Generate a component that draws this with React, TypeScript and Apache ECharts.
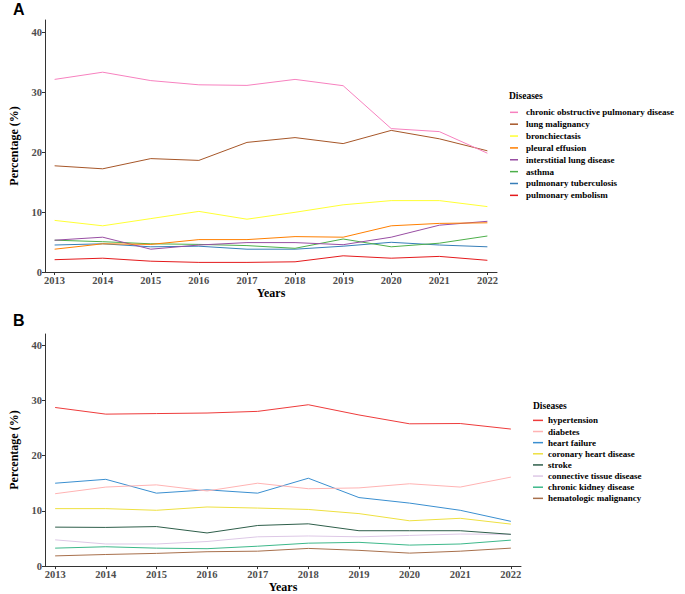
import React, { useEffect, useRef } from "react";
import * as echarts from "echarts";

const years = [2013, 2014, 2015, 2016, 2017, 2018, 2019, 2020, 2021, 2022];
const yTicks = [0, 10, 20, 30, 40];

// Panel A (respiratory diseases)
const namesA = [
  "chronic obstructive pulmonary disease",
  "lung malignancy",
  "bronchiectasis",
  "pleural effusion",
  "interstitial lung disease",
  "asthma",
  "pulmonary tuberculosis",
  "pulmonary embolism",
];
const colorsA = ["#F781BF", "#A65628", "#FFFF33", "#FF7F00", "#984EA3", "#4DAF4A", "#377EB8", "#E41A1C"];
const copd = [32.1, 33.3, 31.9, 31.2, 31.1, 32.1, 31.05, 23.9, 23.4, 19.8];
const lungMalignancy = [17.7, 17.2, 18.9, 18.6, 21.6, 22.4, 21.4, 23.6, 22.2, 20.2];
const bronchiectasis = [8.6, 7.7, 8.9, 10.1, 8.8, 9.95, 11.2, 11.9, 11.9, 10.9];
const pleuralEffusion = [3.8, 4.7, 4.6, 5.4, 5.4, 5.9, 5.8, 7.7, 8.1, 8.2];
const interstitial = [5.3, 5.8, 3.8, 4.5, 4.9, 4.9, 4.55, 5.8, 7.8, 8.45];
const asthma = [5.3, 5.05, 4.7, 4.6, 4.4, 3.95, 5.5, 4.2, 4.8, 6.0];
const tuberculosis = [4.5, 4.7, 4.2, 4.3, 3.8, 3.8, 4.3, 4.95, 4.5, 4.2];
const embolism = [2.05, 2.3, 1.8, 1.6, 1.6, 1.7, 2.7, 2.3, 2.6, 1.95];
const valuesA = [copd, lungMalignancy, bronchiectasis, pleuralEffusion, interstitial, asthma, tuberculosis, embolism];

// Panel B (comorbidities)
const namesB = [
  "hypertension",
  "diabetes",
  "heart failure",
  "coronary heart disease",
  "stroke",
  "connective tissue disease",
  "chronic kidney disease",
  "hematologic malignancy",
];
const colorsB = ["#EE3B3B", "#FFB3B3", "#3A8FD0", "#EEE040", "#2E5E4A", "#DDC8E6", "#3DB88A", "#A8704C"];
const hypertension = [28.7, 27.5, 27.6, 27.7, 28.0, 29.2, 27.35, 25.75, 25.8, 24.8];
const diabetes = [13.1, 14.3, 14.7, 13.6, 15.0, 14.0, 14.15, 14.9, 14.3, 16.1];
const heartFailure = [15.0, 15.7, 13.2, 13.8, 13.2, 15.9, 12.4, 11.4, 10.1, 8.1];
const coronary = [10.4, 10.4, 10.1, 10.7, 10.5, 10.25, 9.5, 8.2, 8.65, 7.6];
const stroke = [7.05, 7.0, 7.15, 6.0, 7.35, 7.65, 6.4, 6.4, 6.4, 5.75];
const connective = [4.75, 4.0, 4.0, 4.45, 5.3, 5.45, 5.3, 5.55, 5.8, 5.75];
const kidney = [3.25, 3.5, 3.25, 3.15, 3.6, 4.15, 4.3, 3.8, 4.0, 4.7];
const hematologic = [1.85, 2.1, 2.3, 2.6, 2.7, 3.2, 2.85, 2.35, 2.7, 3.25];
const valuesB = [hypertension, diabetes, heartFailure, coronary, stroke, connective, kidney, hematologic];

const SERIF = "'Liberation Serif', 'Times New Roman', serif";
const SANS = "'Liberation Sans', Arial, sans-serif";

function makeXAxis(gridIndex: number) {
  return {
    type: "value" as const,
    gridIndex,
    min: 2012.8,
    max: 2022.2,
    name: "Years",
    nameLocation: "middle" as const,
    nameGap: 12,
    nameTextStyle: { fontFamily: SERIF, fontWeight: "bold", fontSize: 12, color: "#000" },
    axisLine: { show: true, lineStyle: { color: "#333", width: 1 } },
    axisTick: { show: true, length: 3, customValues: years, lineStyle: { color: "#333" } },
    axisLabel: {
      customValues: years,
      margin: 3,
      fontFamily: SERIF,
      fontWeight: "bold",
      fontSize: 10.5,
      color: "#4D4D4D",
      formatter: (v: number) => String(v),
    },
    splitLine: { show: false },
  };
}

function makeYAxis(gridIndex: number) {
  return {
    type: "value" as const,
    gridIndex,
    min: 0,
    max: 42,
    name: "Percentage (%)",
    nameLocation: "middle" as const,
    nameGap: 25,
    nameTextStyle: { fontFamily: SERIF, fontWeight: "bold", fontSize: 12, color: "#000" },
    axisLine: { show: true, lineStyle: { color: "#333", width: 1 } },
    axisTick: { show: true, length: 3, customValues: yTicks, lineStyle: { color: "#333" } },
    axisLabel: {
      customValues: yTicks,
      margin: 3,
      fontFamily: SERIF,
      fontWeight: "bold",
      fontSize: 10.5,
      color: "#4D4D4D",
    },
    splitLine: { show: false },
  };
}

export default function App() {
  const ref = useRef<HTMLDivElement>(null);
  useEffect(() => {
    if (!ref.current) return;
    const chart = echarts.init(ref.current, undefined, { renderer: "svg" });
    const seriesA = namesA.map((name, i) => ({
      name,
      type: "line" as const,
      xAxisIndex: 0,
      yAxisIndex: 0,
      symbol: "none",
      silent: true,
      itemStyle: { color: colorsA[i] },
      lineStyle: { color: colorsA[i], width: 1 },
      z: 10 - i,
      data: years.map((y, j) => [y, valuesA[i][j]]),
    }));
    const seriesB = namesB.map((name, i) => ({
      name,
      type: "line" as const,
      xAxisIndex: 1,
      yAxisIndex: 1,
      symbol: "none",
      silent: true,
      itemStyle: { color: colorsB[i] },
      lineStyle: { color: colorsB[i], width: 1 },
      z: 10 - i,
      data: years.map((y, j) => [y, valuesB[i][j]]),
    }));
    chart.setOption({
      animation: false,
      backgroundColor: "#fff",
      grid: [
        { left: 28, top: 20, width: 469, height: 252 },
        { left: 27, top: 334, width: 494, height: 237 },
      ],
      xAxis: [makeXAxis(0), makeXAxis(1)],
      yAxis: [makeYAxis(0), makeYAxis(1)],
      legend: [
        {
          data: namesA,
          orient: "vertical",
          left: 510,
          top: 106.4,
          padding: 0,
          itemWidth: 8,
          itemHeight: 1.5,
          itemGap: 0,
          icon: "rect",
          selectedMode: false,
          textStyle: {
            fontFamily: SERIF,
            fontWeight: "bold",
            fontSize: 9,
            lineHeight: 11.86,
            color: "#000",
            padding: [0, 0, 0, 3],
          },
        },
        {
          data: namesB,
          orient: "vertical",
          left: 533,
          top: 414.8,
          padding: 0,
          itemWidth: 10,
          itemHeight: 1.5,
          itemGap: 0,
          icon: "rect",
          selectedMode: false,
          textStyle: {
            fontFamily: SERIF,
            fontWeight: "bold",
            fontSize: 9,
            lineHeight: 11.14,
            color: "#000",
          },
        },
      ],
      graphic: [
        {
          type: "text",
          left: 13,
          top: 1,
          style: { text: "A", fontFamily: SANS, fontWeight: "bold", fontSize: 16, fill: "#000" },
        },
        {
          type: "text",
          left: 13,
          top: 312,
          style: { text: "B", fontFamily: SANS, fontWeight: "bold", fontSize: 16, fill: "#000" },
        },
        {
          type: "text",
          left: 509,
          top: 91,
          style: { text: "Diseases", fontFamily: SERIF, fontWeight: "bold", fontSize: 9.5, fill: "#000" },
        },
        {
          type: "text",
          left: 533,
          top: 401,
          style: { text: "Diseases", fontFamily: SERIF, fontWeight: "bold", fontSize: 9.5, fill: "#000" },
        },
      ],
      series: [...seriesA, ...seriesB],
    });
    return () => chart.dispose();
  }, []);
  return (
    <div
      ref={ref}
      style={{ position: "fixed", left: 0, top: 0, width: 685, height: 594, background: "#fff" }}
    />
  );
}
